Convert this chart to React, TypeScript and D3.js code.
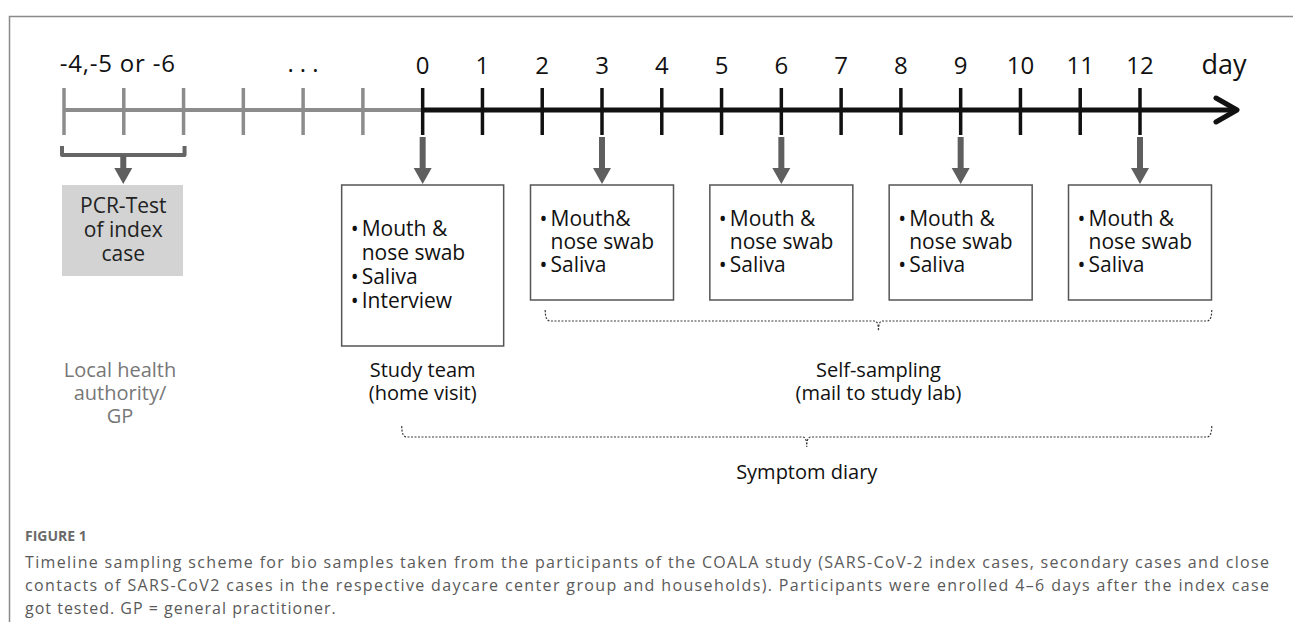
import React from 'react';
import * as d3 from 'd3';

// timeline data
const preDays = [-6, -5, -4, -3, -2, -1];
const days = [0, 1, 2, 3, 4, 5, 6, 7, 8, 9, 10, 11, 12];
const sampleDays = [0, 3, 6, 9, 12];
const sampleItems = [
  ['Mouth &', 'nose swab', 'Saliva', 'Interview'],
  ['Mouth&', 'nose swab', 'Saliva'],
  ['Mouth &', 'nose swab', 'Saliva'],
  ['Mouth &', 'nose swab', 'Saliva'],
  ['Mouth &', 'nose swab', 'Saliva'],
];
const bulletStarts = [
  [true, false, true, true],
  [true, false, true],
  [true, false, true],
  [true, false, true],
  [true, false, true],
];
const pcrLines = ['PCR-Test', 'of index', 'case'];
const authorityLines = ['Local health', 'authority/', 'GP'];
const spans = [
  { from: 2.05, to: 13.2, lines: ['Self-sampling', '(mail to study lab)'] },
  { from: -0.35, to: 13.2, lines: ['Symptom diary'] },
];
const studyTeamLines = ['Study team', '(home visit)'];
const captionLines = [
  'Timeline sampling scheme for bio samples taken from the participants of the COALA study (SARS-CoV-2 index cases, secondary cases and close',
  'contacts of SARS-CoV2 cases in the respective daycare center group and households). Participants were enrolled 4\u20136 days after the index case',
  'got tested. GP = general practitioner.',
];

const W = 1293;
const H = 622;
const FONT = "'Open Sans', 'DejaVu Sans', sans-serif";

const bracePath = (x0: number, x1: number, yTop: number, yLine: number, yTip: number) => {
  const xm = (x0 + x1) / 2;
  return `M${x0},${yTop} Q${x0},${yLine} ${x0 + 5},${yLine} H${xm - 4} Q${xm},${yLine} ${xm},${yTip} ` +
    `Q${xm},${yLine} ${xm + 4},${yLine} H${x1 - 5} Q${x1},${yLine} ${x1},${yTop}`;
};

const downArrow = (cx: number, y0: number, y1: number) =>
  `M${cx - 3},${y0} H${cx + 3} V${y1 - 16} H${cx + 9} L${cx},${y1} L${cx - 9},${y1 - 16} H${cx - 3} Z`;

// centered multi-line label as one text element
const Lines = ({ lines, cx, y, step, size, fill }:
  { lines: string[]; cx: number; y: number; step: number; size: number; fill: string }) => (
  <text textAnchor="middle" fontSize={size} fill={fill}>
    {lines.map((t, i) => (
      <tspan key={i} x={cx} y={y + i * step}>{t}</tspan>
    ))}
  </text>
);

const App = () => {
  const x = d3.scaleLinear().domain([-6, 12]).range([64, 1140]);
  const axisY = 110;
  const tickTop = 88;
  const tickBot = 135;

  const boxes = sampleDays.map((d, i) => {
    const wide = i === 0;
    const w = wide ? 162 : 143;
    return {
      day: d,
      x: x(d) - w / 2,
      y: 185,
      w,
      h: wide ? 161 : 115,
      first: wide ? 51 : 41,
      step: wide ? 24 : 23,
      lines: sampleItems[i],
      bullets: bulletStarts[i],
    };
  });

  const pcrX0 = x(-6) - 2;
  const pcrX1 = x(-4) + 1;
  const pcrMid = (pcrX0 + pcrX1) / 2;

  return (
    <svg width={W} height={H} style={{ position: 'absolute', left: 0, top: 0, background: '#fff' }} fontFamily={FONT}>
      {/* frame */}
      <path d={`M9.5,${H} V16.5 H${W}`} fill="none" stroke="#8a8a8a" strokeWidth={1.5} />

      {/* gray pre-enrolment part */}
      <line x1={x(-6)} x2={x(0)} y1={axisY} y2={axisY} stroke="#8c8c8c" strokeWidth={4} />
      {preDays.map(d => (
        <line key={d} x1={x(d)} x2={x(d)} y1={tickTop} y2={tickBot} stroke="#8c8c8c" strokeWidth={3.5} />
      ))}

      {/* black study part */}
      <line x1={x(0)} x2={1236} y1={axisY} y2={axisY} stroke="#111" strokeWidth={5} />
      <path d={`M1216,98 L1237,${axisY} L1216,122`} fill="none" stroke="#111" strokeWidth={5}
        strokeLinecap="round" strokeLinejoin="round" />
      {days.map(d => (
        <line key={d} x1={x(d)} x2={x(d)} y1={tickTop} y2={tickBot} stroke="#111" strokeWidth={3.5} />
      ))}
      {days.map(d => (
        <text key={d} x={x(d)} y={74} textAnchor="middle" fontSize={24} fill="#111">{d}</text>
      ))}
      <text x={(x(-6) + x(-4)) / 2 - 6} y={72} textAnchor="middle" fontSize={24} fill="#111" letterSpacing={0.8}>-4,-5 or -6</text>
      <text x={306} y={72} textAnchor="middle" fontSize={24} fill="#111" letterSpacing={6}>...</text>
      <text x={1224} y={74} textAnchor="middle" fontSize={27} fill="#111">day</text>

      {/* PCR test bracket + box */}
      <path d={`M${pcrX0},146 V155 H${pcrX1} V146`} fill="none" stroke="#666" strokeWidth={4} strokeLinejoin="round" />
      <path d={downArrow(pcrMid, 155, 184)} fill="#5f5f5f" />
      <rect x={62} y={185} width={121} height={91} fill="#d3d3d3" />
      <Lines lines={pcrLines} cx={pcrMid} y={213} step={24} size={21} fill="#222" />
      <Lines lines={authorityLines} cx={120} y={377} step={23} size={20} fill="#777" />

      {/* sampling arrows and boxes */}
      {boxes.map(b => (
        <g key={b.day}>
          <path d={downArrow(x(b.day), 137, 184)} fill="#5f5f5f" />
          <rect x={b.x} y={b.y} width={b.w} height={b.h} fill="#fff" stroke="#555" strokeWidth={1.5} />
          <text fontSize={21} fill="#111">
            {b.lines.map((t, i) => [
              b.bullets[i] ? <tspan key={`b${i}`} x={b.x + 9} y={b.y + b.first + i * b.step}>•</tspan> : null,
              <tspan key={`t${i}`} x={b.x + 20} y={b.y + b.first + i * b.step}>{t}</tspan>,
            ])}
          </text>
        </g>
      ))}

      <Lines lines={studyTeamLines} cx={x(0)} y={377} step={23} size={20} fill="#111" />

      {/* dashed braces */}
      <path d={bracePath(x(spans[0].from), x(spans[0].to), 310, 321, 331)} fill="none" stroke="#3a3a3a"
        strokeWidth={1.2} strokeDasharray="2,1.5" />
      <path d={bracePath(x(spans[1].from), x(spans[1].to), 426, 437, 447)} fill="none" stroke="#3a3a3a"
        strokeWidth={1.2} strokeDasharray="2,1.5" />
      <Lines lines={spans[0].lines} cx={(x(spans[0].from) + x(spans[0].to)) / 2} y={377} step={23} size={20} fill="#111" />
      <Lines lines={spans[1].lines} cx={(x(spans[1].from) + x(spans[1].to)) / 2} y={479} step={23} size={20} fill="#111" />

      {/* caption */}
      <text x={25} y={541} fontSize={14} fontWeight={700} fill="#6a6a6a">FIGURE 1</text>
      {captionLines.map((t, i) => (
        <text key={i} x={25} y={568 + i * 23} fontSize={16} fill="#5a5a5a"
          letterSpacing={i < 2 ? undefined : 1}
          textLength={i < 2 ? 1244 : undefined} lengthAdjust={i < 2 ? 'spacing' : undefined}>{t}</text>
      ))}
    </svg>
  );
};

export default App;
